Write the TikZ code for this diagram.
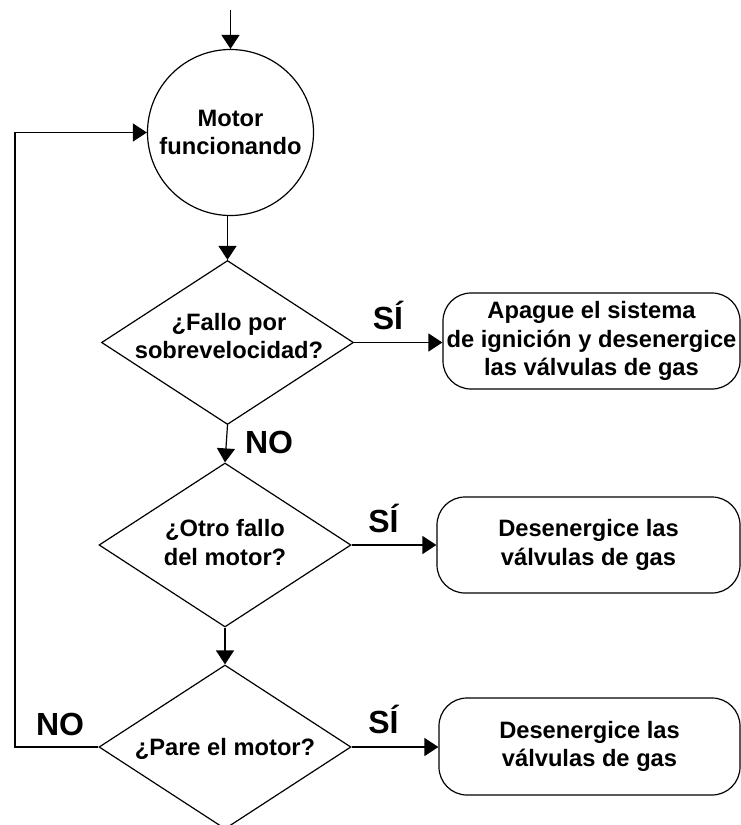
\documentclass[tikz,border=0pt]{standalone}
\usepackage{fontspec}
\setmainfont{Liberation Sans}
\usetikzlibrary{arrows.meta,shapes.geometric}
\begin{document}
\begin{tikzpicture}[x=1pt,y=-1pt,
  line width=1.2pt,
  txt/.style={font=\fontsize{23.7}{28.5}\selectfont\bfseries, align=center, inner sep=0pt},
  lbl/.style={font=\fontsize{32}{36}\selectfont\bfseries, inner sep=0pt, anchor=base},
  dia/.style={draw, diamond, minimum width=252pt, minimum height=164pt, inner sep=0pt},
  rbox/.style={draw, rounded corners=28pt, minimum height=96pt, inner sep=0pt, txt},
  arr/.style={-{Triangle[length=14pt,width=18pt]}},
]
\useasboundingbox (0,0) rectangle (741,825);

\node[circle, draw, minimum size=166pt, inner sep=0pt, txt] (circ) at (230.5,132.5) {Motor\\funcionando};
\node[dia] (d1) at (227.5,342.5) {};
\node[txt] (t1) at (229,336) {¿Fallo por\\sobrevelocidad?};
\node[dia] (d2) at (225,545) {};
\node[txt] (t2) at (225,542.5) {¿Otro fallo\\del motor?};
\node[dia] (d3) at (225,747) {};
\node[txt, anchor=base] (t3) at (225,755) {¿Pare el motor?};

\node[rbox, minimum width=297pt] (b1) at (591.5,341) {Apague el sistema\\de ignición y desenergice\\las válvulas de gas};
\node[rbox, minimum width=303pt] (b2) at (588.5,545) {Desenergice las\\válvulas de gas};
\node[rbox, minimum width=301pt, minimum height=97pt] (b3) at (589.5,746.5) {Desenergice las\\válvulas de gas};

\node[lbl] (s1) at (388,329) {SÍ};
\node[lbl] (s2) at (383.5,532.5) {SÍ};
\node[lbl] (s3) at (383.5,733.5) {SÍ};
\node[lbl] (n1) at (269,453) {NO};
\node[lbl] (n2) at (60,735) {NO};

\coordinate (start) at (230.5,10);
\coordinate (lp) at (15,747);

\draw[arr] (start) -- (circ.north);
\draw[arr] (circ.south -| d1.north) -- (d1.north);
\draw[arr] (d1.south) -- (d2.north);
\draw[arr] (d2.south) -- (d3.north);
\draw[arr] (d1.east) -- (d1.east -| b1.west);
\draw[arr] (d2.east) -- (d2.east -| b2.west);
\draw[arr] (d3.east) -- (d3.east -| b3.west);
\draw[arr] (d3.west) -- (d3.west -| lp) |- (circ.west);
\end{tikzpicture}
\end{document}
